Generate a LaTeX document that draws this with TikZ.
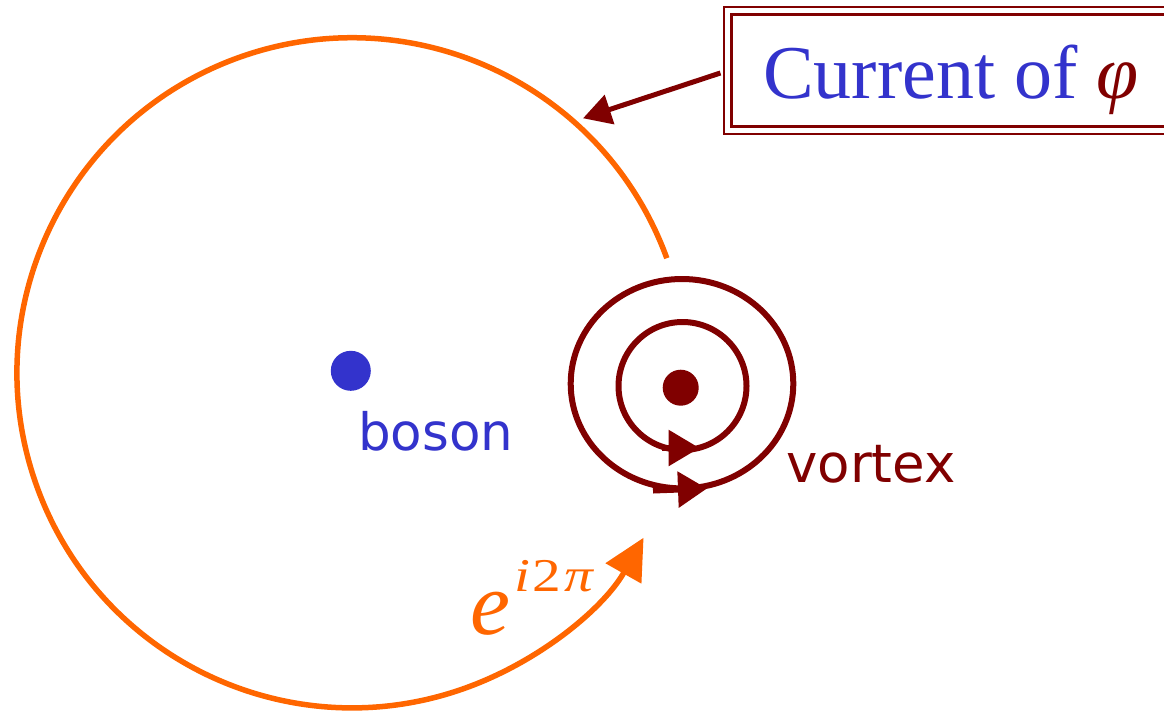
\documentclass[tikz,border=0pt]{standalone}
\usepackage{graphicx}
\usepackage{fontspec}
\setmainfont{Liberation Serif}
\newfontfamily\dejavu{DejaVu Sans}
\usetikzlibrary{arrows.meta}
\definecolor{vorange}{HTML}{FF6600}
\definecolor{vred}{HTML}{800000}
\definecolor{vblue}{HTML}{3333CC}
\tikzset{
  orangeline/.style={draw=vorange, line width=5.5pt},
  vline/.style={draw=vred, line width=6pt},
  dotnode/.style={circle, inner sep=0pt, draw=none},
  lbl/.style={anchor=base west, inner sep=0pt},
}
\begin{document}
\begin{tikzpicture}[x=1pt,y=-1pt]
\useasboundingbox (0,0) rectangle (1164,710);
\clip (0,0) rectangle (1164,710);

% orange current loop
\coordinate (oc) at (352,372.8);
\draw[orangeline, -{Triangle[length=41pt,width=40pt]}] ([shift={(-20:335)}]oc) arc[start angle=-20, end angle=-330.5, radius=335];

% boson
\node[dotnode, fill=vblue, minimum size=40pt] (bdot) at (350.8,370.8) {};
\node[lbl, text=vblue, font=\dejavu\fontsize{51.5}{51.5}\selectfont] (boson) at (358,450) {boson};

% vortex
\draw[vline] (682,383.7) ellipse [x radius=111.3, y radius=104.7];
\draw[vline] (682.5,386) circle [radius=64];
\node[dotnode, fill=vred, minimum size=36pt] (vdot) at (680.7,387.7) {};
\coordinate (oa1) at (653,490.5);
\coordinate (oa2) at (707,488.5);
\coordinate (ia1) at (662,448);
\coordinate (ia2) at (699.5,448);
\draw[vline, -{Triangle[length=29pt,width=35pt]}] (oa1) -- (oa2);
\draw[vline, -{Triangle[length=31pt,width=35pt]}] (ia1) -- (ia2);
\node[lbl, text=vred, font=\dejavu\fontsize{53}{53}\selectfont] (vortex) at (786,482) {vortex};

% e^{i2pi}
\node[lbl, text=vorange, font=\fontsize{90}{90}\selectfont\itshape] (e) at (470,634) {e};
\node[lbl, text=vorange, font=\fontsize{47}{47}\selectfont] (sup) at (514,591.5) {\scalebox{1.22}[1]{\itshape i\kern2pt\upshape 2\kern3pt\itshape π}};

% title box
\node[draw=vred, line width=3pt, minimum width=446pt, minimum height=112pt, inner sep=0pt, anchor=north west] (box) at (729.5,12.5) {};
\draw[vred, line width=2pt] ([xshift=-5.5pt,yshift=6pt]box.north west) rectangle ([xshift=5.5pt,yshift=-6.5pt]box.south east);
\node[lbl, font=\fontsize{76}{76}\selectfont] (title) at (763,98.3) {\textcolor{vblue}{Current of }\textcolor{vred}{\itshape φ}};
\coordinate (tip) at (583,118.3);
\draw[vline, line width=5pt, shorten <=9.5pt, -{Triangle[length=28pt,width=30pt]}] (box.west) -- (tip);
\end{tikzpicture}
\end{document}
